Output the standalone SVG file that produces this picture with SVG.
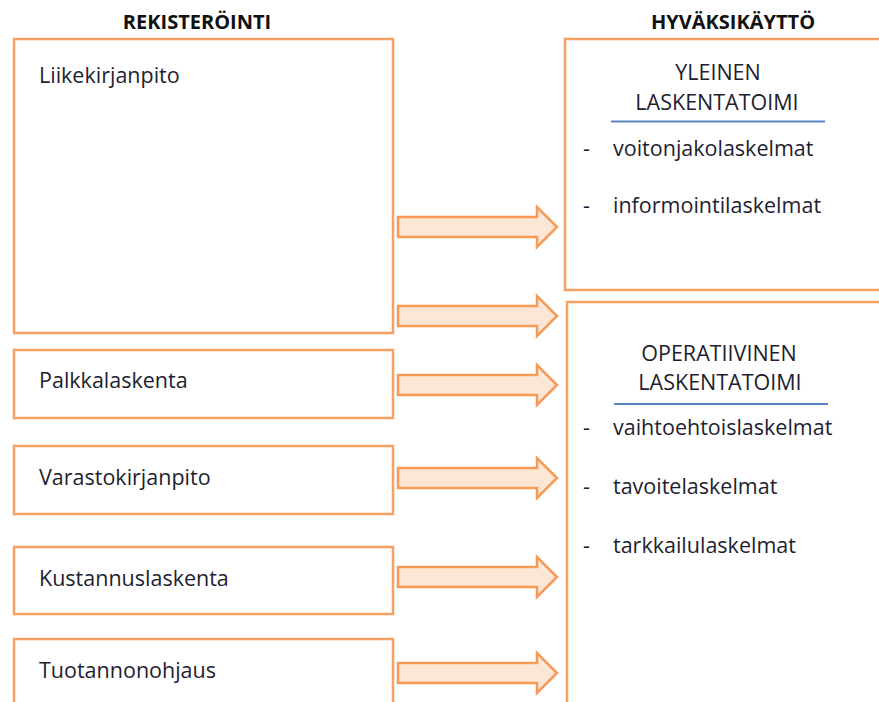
<svg xmlns="http://www.w3.org/2000/svg" width="879" height="702" viewBox="0 0 879 702">
<style>
  .box { fill: #ffffff; stroke: #F7A061; stroke-width: 2.5; }
  .arrow { fill: #FCE6D6; stroke: #F79A55; stroke-width: 2.5; stroke-linejoin: miter; }
  .t { font-family: "Open Sans", "Liberation Sans", sans-serif; font-size: 21.5px; fill: #1e1e30; }
  .h { font-family: "Open Sans", "Liberation Sans", sans-serif; font-size: 20px; font-weight: bold; fill: #111111; text-anchor: middle; }
  .c { text-anchor: middle; }
  .ul { stroke: #5B84C4; stroke-width: 1.8; }
</style>
<rect width="879" height="702" fill="#ffffff"/>
<text class="h" x="197" y="29">REKISTERÖINTI</text>
<text class="h" x="733" y="29">HYVÄKSIKÄYTTÖ</text>

<g id="liikekirjanpito">
  <rect class="box" x="14" y="39" width="379" height="294"/>
  <text class="t" x="39" y="83">Liikekirjanpito</text>
</g>
<g id="palkkalaskenta">
  <rect class="box" x="14" y="350" width="379" height="68"/>
  <text class="t" x="39" y="388">Palkkalaskenta</text>
</g>
<g id="varastokirjanpito">
  <rect class="box" x="14" y="446" width="379" height="68"/>
  <text class="t" x="39" y="485">Varastokirjanpito</text>
</g>
<g id="kustannuslaskenta">
  <rect class="box" x="14" y="547" width="379" height="67"/>
  <text class="t" x="39" y="586">Kustannuslaskenta</text>
</g>
<g id="tuotannonohjaus">
  <rect class="box" x="14" y="639" width="379" height="80"/>
  <text class="t" x="39" y="678">Tuotannonohjaus</text>
</g>

<g id="yleinen">
  <rect class="box" x="565" y="39" width="330" height="251"/>
  <text class="t c" x="718" y="80">YLEINEN</text>
  <text class="t c" x="717" y="110">LASKENTATOIMI</text>
  <line class="ul" x1="611" y1="121.5" x2="825" y2="121.5"/>
  <text class="t" x="583" y="156">-</text>
  <text class="t" x="613" y="156">voitonjakolaskelmat</text>
  <text class="t" x="583" y="213">-</text>
  <text class="t" x="613" y="213">informointilaskelmat</text>
</g>
<g id="operatiivinen">
  <rect class="box" x="567" y="302" width="330" height="420"/>
  <text class="t c" x="719" y="361">OPERATIIVINEN</text>
  <text class="t c" x="720" y="390">LASKENTATOIMI</text>
  <line class="ul" x1="614" y1="404" x2="828" y2="404"/>
  <text class="t" x="583" y="435">-</text>
  <text class="t" x="613" y="435">vaihtoehtoislaskelmat</text>
  <text class="t" x="583" y="494">-</text>
  <text class="t" x="613" y="494">tavoitelaskelmat</text>
  <text class="t" x="583" y="553">-</text>
  <text class="t" x="613" y="553">tarkkailulaskelmat</text>
</g>

<g id="connectors">
  <path class="arrow" d="M398,217 H537 V207 L557,227 L537,247 V237 H398 Z"/>
  <path class="arrow" d="M398,306 H537 V296 L557,316 L537,336 V326 H398 Z"/>
  <path class="arrow" d="M398,375 H537 V365 L557,385 L537,405 V395 H398 Z"/>
  <path class="arrow" d="M398,468 H537 V458 L557,478 L537,498 V488 H398 Z"/>
  <path class="arrow" d="M398,567 H537 V557 L557,577 L537,597 V587 H398 Z"/>
  <path class="arrow" d="M398,663 H537 V653 L557,673 L537,693 V683 H398 Z"/>
</g>
</svg>
